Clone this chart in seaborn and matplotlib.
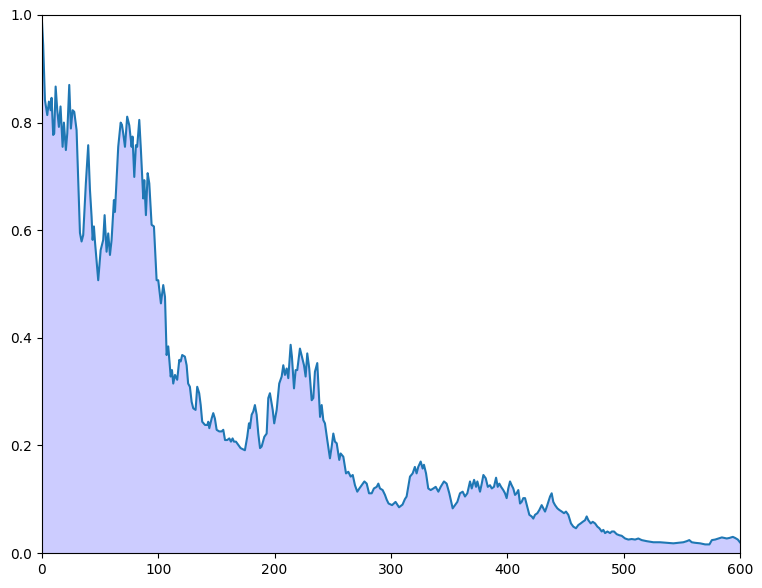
import numpy as np
import pandas as pd
import seaborn as sns
import matplotlib
matplotlib.use('Agg')
import matplotlib.pyplot as plt

# traced curve points (x position, value)
steps = [0, 1.1, 2.6, 4.6, 6, 7.5, 8.3, 9.7, 10.6, 11.8, 13.2, 14.6, 16, 17.8, 18.9,
         20.6, 21.8, 23.5, 24.9, 26.4, 27.8, 29.8, 32.7, 34.1, 35.5, 37.8, 39.8,
         41.3, 42.7, 43.6, 44.7, 45.6, 48.4, 50.5, 52.7, 53.9, 55.6, 57, 58.5,
         59.9, 61.9, 62.8, 64.2, 65.6, 67.7, 68.8, 69.9, 71.4, 73.3, 75.1, 77.1,
         77.9, 79.4, 80.8, 81.9, 83.7, 85.1, 87.1, 88, 89.4, 90.9, 92.3, 94.3,
         96.3, 98.6, 100, 102.3, 104.3, 105.8, 107.2, 108.6, 110.7, 111.8, 112.9,
         114.4, 116.3, 118.1, 119.3, 120.6, 122.9, 124.4, 125.7, 127.2, 128.7,
         130.1, 132.1, 133.5, 135.2, 136.5, 137.8, 140.2, 142.2, 143, 143.9,
         145.9, 147.3, 148.7, 150.2, 152.4, 154.5, 155.9, 157.4, 159.3, 161.1,
         162.5, 163.9, 165.1, 166.8, 168.8, 170.8, 174.5, 176.5, 178, 178.8,
         180.3, 181.7, 183.1, 184.6, 186, 187.5, 188.9, 191.2, 193.2, 194.6, 196,
         198.4, 199.7, 201.8, 204, 206.1, 207.5, 208.9, 210.4, 211.8, 213.8,
         214.9, 216.7, 218.1, 219.5, 221.8, 223.8, 225.3, 226.7, 228.1, 229.8,
         231.9, 233.3, 234.7, 236.7, 239.1, 240.5, 241.9, 243.3, 245.3, 247.6,
         249.1, 250.5, 251.9, 253.4, 255.6, 256.8, 259.1, 261.4, 263.4, 265.4,
         267.2, 269.1, 271.1, 272.9, 274.9, 277.2, 279.2, 281.2, 283.5, 285.4,
         287.8, 289.2, 290.6, 292.9, 294.9, 296.4, 298, 301, 304, 307, 310, 312,
         313.5, 316.4, 318.7, 320.6, 322.1, 323.5, 325.6, 327.3, 328.4, 330.2,
         332.1, 334.2, 336.5, 338.5, 340.8, 342.8, 345.6, 347.9, 350.2, 353.1,
         355.1, 357.1, 359.4, 361.7, 363.7, 365.7, 368, 369.5, 371.5, 373.2,
         374.3, 376.6, 378.1, 379.5, 381.5, 383.3, 385.2, 386.7, 388.6, 390.4,
         391.8, 393.2, 394.7, 396.6, 398.1, 399.5, 400.9, 402.4, 403.8, 405.2,
         406.7, 408.1, 409.5, 411, 412.4, 413.8, 415.3, 417.2, 419, 421, 422.4,
         423.9, 425.9, 427.6, 429.6, 431.1, 432.5, 434, 435.3, 436.8, 438.2,
         439.6, 441.1, 443.1, 444.8, 446.9, 448.8, 450.5, 452.5, 454.8, 456.8,
         459.1, 461.1, 463.1, 464.9, 466.9, 468.3, 469.7, 471.8, 473.5, 475.5,
         477.5, 479.2, 481.2, 482.6, 484.1, 486.1, 488.4, 489.9, 491.8, 494.1,
         496.4, 498.4, 501.3, 504.1, 507, 509.9, 512.7, 515.6, 519.9, 525.6,
         531.3, 537.1, 542.8, 547.1, 551.4, 554.3, 556.5, 558.6, 561.4, 565.8,
         570.1, 573.8, 575.9, 578.7, 581.6, 584.5, 586.5, 588.7, 591, 593.9,
         595.9, 598.2, 600]
values = [0.99, 0.944, 0.842, 0.814, 0.839, 0.823, 0.846, 0.777, 0.78, 0.867, 0.823,
          0.792, 0.83, 0.755, 0.80, 0.749, 0.78, 0.87, 0.789, 0.823, 0.82, 0.786,
          0.595, 0.579, 0.591, 0.688, 0.758, 0.675, 0.625, 0.582, 0.607, 0.579,
          0.507, 0.563, 0.582, 0.628, 0.56, 0.594, 0.554, 0.582, 0.656, 0.634,
          0.693, 0.755, 0.80, 0.796, 0.78, 0.755, 0.811, 0.795, 0.755, 0.774,
          0.699, 0.758, 0.755, 0.805, 0.749, 0.659, 0.693, 0.628, 0.706, 0.687,
          0.61, 0.607, 0.507, 0.507, 0.464, 0.498, 0.476, 0.368, 0.384, 0.328,
          0.34, 0.315, 0.331, 0.322, 0.359, 0.356, 0.368, 0.365, 0.349, 0.315,
          0.309, 0.281, 0.269, 0.266, 0.309, 0.297, 0.275, 0.244, 0.238, 0.238,
          0.244, 0.232, 0.25, 0.26, 0.25, 0.229, 0.226, 0.226, 0.229, 0.21, 0.21,
          0.213, 0.207, 0.213, 0.207, 0.207, 0.201, 0.195, 0.191, 0.216, 0.241,
          0.232, 0.257, 0.263, 0.275, 0.257, 0.222, 0.195, 0.198, 0.216, 0.222,
          0.288, 0.297, 0.266, 0.241, 0.266, 0.315, 0.328, 0.349, 0.331, 0.343,
          0.325, 0.387, 0.365, 0.306, 0.34, 0.34, 0.38, 0.362, 0.349, 0.328,
          0.371, 0.343, 0.284, 0.288, 0.337, 0.353, 0.253, 0.275, 0.247, 0.241,
          0.21, 0.176, 0.198, 0.222, 0.207, 0.204, 0.173, 0.185, 0.179, 0.148,
          0.151, 0.142, 0.145, 0.126, 0.114, 0.12, 0.126, 0.133, 0.129, 0.111,
          0.111, 0.12, 0.123, 0.129, 0.12, 0.117, 0.108, 0.099, 0.092, 0.089,
          0.095, 0.085, 0.09, 0.1, 0.105, 0.142, 0.148, 0.16, 0.148, 0.16, 0.17,
          0.157, 0.164, 0.148, 0.12, 0.117, 0.12, 0.123, 0.114, 0.123, 0.133,
          0.129, 0.111, 0.083, 0.089, 0.095, 0.111, 0.114, 0.105, 0.111, 0.133,
          0.12, 0.136, 0.123, 0.133, 0.114, 0.129, 0.145, 0.139, 0.123, 0.126,
          0.12, 0.123, 0.14, 0.123, 0.129, 0.123, 0.117, 0.111, 0.102, 0.12,
          0.133, 0.126, 0.12, 0.108, 0.111, 0.117, 0.092, 0.095, 0.102, 0.102,
          0.086, 0.071, 0.068, 0.064, 0.071, 0.074, 0.08, 0.089, 0.083, 0.077,
          0.086, 0.095, 0.105, 0.111, 0.095, 0.089, 0.083, 0.08, 0.077, 0.074,
          0.077, 0.071, 0.055, 0.049, 0.046, 0.052, 0.055, 0.058, 0.061, 0.068,
          0.061, 0.055, 0.058, 0.055, 0.049, 0.046, 0.04, 0.043, 0.037, 0.04,
          0.037, 0.04, 0.04, 0.035, 0.033, 0.032, 0.027, 0.025, 0.026, 0.025,
          0.027, 0.024, 0.022, 0.02, 0.02, 0.019, 0.018, 0.019, 0.02, 0.022,
          0.024, 0.02, 0.019, 0.018, 0.016, 0.016, 0.024, 0.025, 0.027, 0.029,
          0.028, 0.027, 0.028, 0.03, 0.028, 0.025, 0.02]

df = pd.DataFrame({'step': steps, 'value': values})

fig, ax = plt.subplots(figsize=(7.62, 5.88), dpi=100)
fig.subplots_adjust(left=0.055, right=0.971, bottom=0.0595, top=0.9745)

# light fill under the curve, then the line on top
ax.fill_between(df['step'], df['value'], color='blue', alpha=0.2, linewidth=0)
sns.lineplot(data=df, x='step', y='value', ax=ax, color='#1f77b4', linewidth=1.5)

ax.set_xlim(0, 600)
ax.set_ylim(0, 1)
ax.set_xlabel('')
ax.set_ylabel('')

plt.savefig('out.png', dpi=100)
